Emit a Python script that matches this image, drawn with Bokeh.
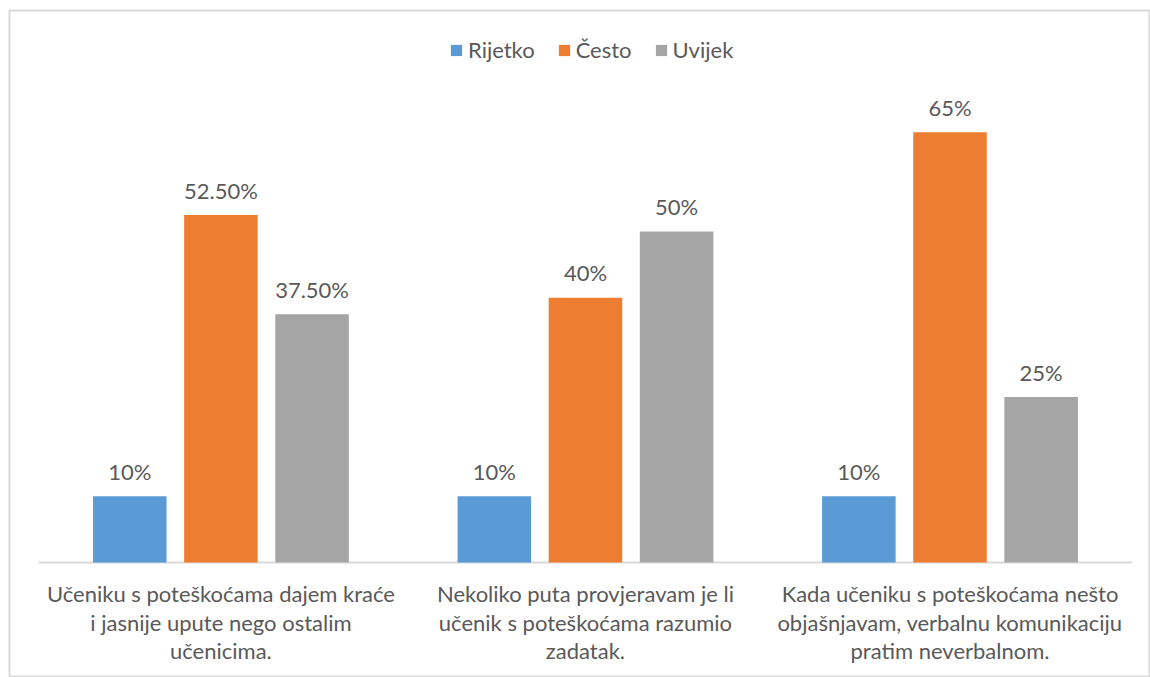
from bokeh.plotting import figure
from bokeh.models import Range1d, Legend, LegendItem, ColumnDataSource
from bokeh.core.properties import value
from bokeh.embed import file_html
from bokeh.resources import INLINE

categories = [
    "Učeniku s poteškoćama dajem kraće\ni jasnije upute nego ostalim\nučenicima.",
    "Nekoliko puta provjeravam je li\nučenik s poteškoćama razumio\nzadatak.",
    "Kada učeniku s poteškoćama nešto\nobjašnjavam, verbalnu komunikaciju\npratim neverbalnom.",
]
series_names = ["Rijetko", "Često", "Uvijek"]
rijetko = [10.0, 10.0, 10.0]
cesto = [52.5, 40.0, 65.0]
uvijek = [37.5, 50.0, 25.0]
colors = ["#5B9BD5", "#ED7D31", "#A5A5A5"]

FONT = "Lato"
TXT = "#595959"

p = figure(width=1150, height=677, output_backend="svg", toolbar_location=None,
           x_range=Range1d(-0.580, 2.550), y_range=Range1d(-17.38, 83.41),
           min_border_left=9, min_border_top=10, min_border_right=0, min_border_bottom=0)
p.xaxis.visible = False
p.yaxis.visible = False
p.xgrid.visible = False
p.ygrid.visible = False
p.outline_line_color = "#D9D9D9"
p.outline_line_width = 2
p.background_fill_color = "white"
p.border_fill_color = "white"

n = len(categories)
offsets = [-0.25, 0.0, 0.25]
bar_w = 0.2017

# baseline (category axis line)
p.segment(x0=[-0.5], y0=[0], x1=[n - 0.5], y1=[0], line_color="#D9D9D9", line_width=2)

items = []
for vals, name, col, off in zip([rijetko, cesto, uvijek], series_names, colors, offsets):
    xs = [i + off for i in range(n)]
    labels = [("%.0f%%" % v) if float(v).is_integer() else ("%.2f%%" % v) for v in vals]
    src = ColumnDataSource(dict(x=xs, top=vals, lab=labels))
    r = p.vbar(x="x", top="top", width=bar_w, bottom=0, source=src,
               fill_color=col, line_color=None)
    items.append(LegendItem(label=name, renderers=[r]))
    p.text(x="x", y="top", text="lab", source=src, text_align="center",
           text_baseline="alphabetic", y_offset=-25,
           text_font=value(FONT), text_font_size="22px", text_color=TXT)

cat_src = ColumnDataSource(dict(x=list(range(n)), y=[0] * n, t=categories))
p.text(x="x", y="y", text="t", source=cat_src, text_align="center",
       text_baseline="top", y_offset=18, text_line_height=1.04,
       text_font=value(FONT), text_font_size="22px", text_color=TXT)

legend = Legend(items=items, orientation="horizontal", location=(440, 614),
                label_text_font=FONT, label_text_font_size="22px",
                label_text_color=TXT, glyph_width=14, glyph_height=14,
                label_standoff=5, spacing=22, padding=0, margin=0,
                border_line_color=None, background_fill_alpha=0)
p.add_layout(legend)

open("out.html", "w").write(file_html(p, INLINE))
